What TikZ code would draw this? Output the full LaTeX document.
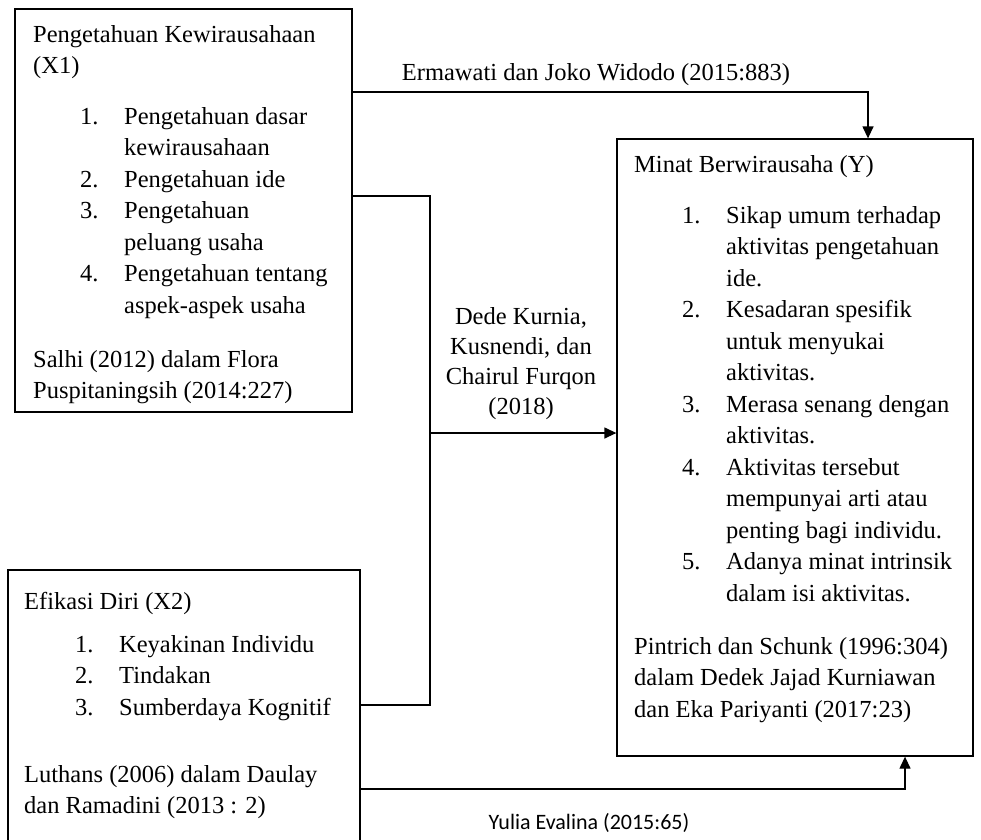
\documentclass[tikz,border=0pt]{standalone}
\usepackage{fontspec}
\setmainfont{Liberation Serif}
\newfontfamily\labelsans{Carlito}
\usetikzlibrary{arrows.meta}
\newcommand{\blk}[1]{\begin{tabular}[t]{@{}l@{}}#1\end{tabular}}
\newcommand{\mylist}[1]{\begin{tabular}[t]{@{}p{44pt}@{}l@{}}#1\end{tabular}}
\begin{document}
\begin{tikzpicture}[x=1pt,y=-1pt,
  box/.style={draw,line width=1.3pt,rectangle,inner sep=0pt},
  txt/.style={anchor=base west,inner sep=0pt,font=\fontsize{24.5}{31.5}\selectfont},
  lbl/.style={anchor=base,inner sep=0pt,align=center,font=\fontsize{24.5}{30}\selectfont},
  conn/.style={line width=1.3pt},
  arr/.style={line width=1.3pt,-{Triangle[length=12pt,width=11pt]}}]
\clip (0,0) rectangle (981,839);
\fill[white] (0,0) rectangle (981,839);
% boxes
\node[box,minimum width=337pt,minimum height=403pt] (x1) at (183.5,210.5) {};
\node[box,minimum width=352pt,minimum height=340pt] (x2) at (184,740) {};
\node[box,minimum width=356pt,minimum height=617pt] (yb) at (795,447.5) {};
% X1 text
\node[txt] (x1t) at (33,42) {\blk{Pengetahuan Kewirausahaan\\(X1)}};
\node[txt] (x1l) at (80,124) {\mylist{1.&Pengetahuan dasar\\&kewirausahaan\\2.&Pengetahuan ide\\3.&Pengetahuan\\&peluang usaha\\4.&Pengetahuan tentang\\&aspek-aspek usaha}};
\node[txt] (x1s) at (33,367) {\blk{Salhi (2012) dalam Flora\\Puspitaningsih (2014:227)}};
% X2 text
\node[txt] (x2t) at (24,609) {Efikasi Diri (X2)};
\node[txt] (x2l) at (75,652) {\mylist{1.&Keyakinan Individu\\2.&Tindakan\\3.&Sumberdaya Kognitif}};
\node[txt] (x2s) at (24,782) {\blk{Luthans (2006) dalam Daulay\\dan Ramadini (2013 : 2)}};
% Y text
\node[txt] (yt) at (634,172) {Minat Berwirausaha (Y)};
\node[txt] (yl) at (682,223) {\mylist{1.&Sikap umum terhadap\\&aktivitas pengetahuan\\&ide.\\2.&Kesadaran spesifik\\&untuk menyukai\\&aktivitas.\\3.&Merasa senang dengan\\&aktivitas.\\4.&Aktivitas tersebut\\&mempunyai arti atau\\&penting bagi individu.\\5.&Adanya minat intrinsik\\&dalam isi aktivitas.}};
\node[txt] (ys) at (634,654) {\blk{Pintrich dan Schunk (1996:304)\\dalam Dedek Jajad Kurniawan\\dan Eka Pariyanti (2017:23)}};
% labels
\node[lbl] (l1) at (596,80) {Ermawati dan Joko Widodo (2015:883)};
\node[lbl,anchor=north] (l2) at (521,307) {Dede Kurnia,\\Kusnendi, dan\\Chairul Furqon\\(2018)};
\node[lbl,font=\labelsans\fontsize{22}{26}\selectfont] (l3) at (589,829) {Yulia Evalina (2015:65)};
% connectors
\coordinate (ct) at (868,92);
\coordinate (cm) at (430,433);
\coordinate (cmt) at (430,196);
\coordinate (cmb) at (430,705);
\coordinate (cb) at (905,789);
\draw[arr] (x1.east |- ct) -| (yb.north -| ct);
\draw[conn] (x1.east |- cmt) -- (cmt) -- (cmb) -- (x2.east |- cmb);
\draw[arr] (cm) -- (yb.west |- cm);
\draw[arr] (x2.east |- cb) -| (yb.south -| cb);
\end{tikzpicture}
\end{document}
